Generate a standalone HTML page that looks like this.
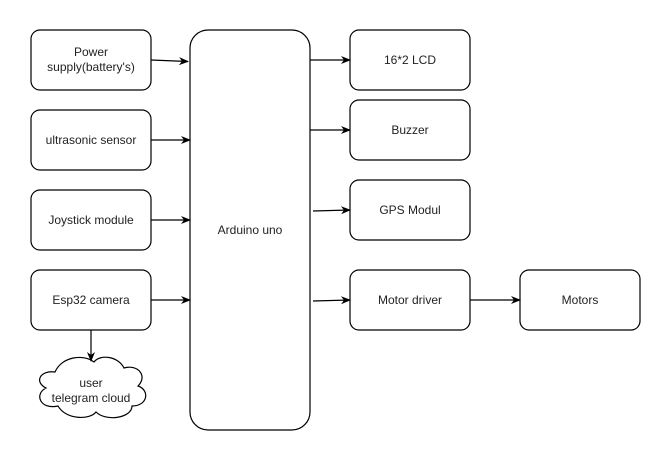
<!DOCTYPE html>
<html><head><meta charset="utf-8"><style>
html,body{margin:0;padding:0;background:#fff;}
svg{display:block;}
text{font-family:"Liberation Sans",Arial,sans-serif;font-size:12px;fill:#222;text-anchor:middle;}
</style></head><body>
<svg width="671" height="461" viewBox="0 0 671 461" xmlns="http://www.w3.org/2000/svg">
<defs><marker id="a" markerWidth="10" markerHeight="8" refX="9" refY="4" orient="auto" markerUnits="userSpaceOnUse"><path d="M0,0 L10,4 L0,8 L3,4 Z" fill="#000"/></marker></defs>
<g fill="#fff" stroke="#000" stroke-width="1.2">
<rect x="31" y="30" width="120" height="60" rx="9"/>
<rect x="31" y="110" width="120" height="60" rx="9"/>
<rect x="31" y="190" width="120" height="60" rx="9"/>
<rect x="31" y="270" width="120" height="60" rx="9"/>
<rect x="190" y="30" width="120" height="400" rx="18"/>
<rect x="350" y="30" width="120" height="60" rx="9"/>
<rect x="350" y="100" width="120" height="60" rx="9"/>
<rect x="350" y="180" width="120" height="60" rx="9"/>
<rect x="350" y="270" width="120" height="60" rx="9"/>
<rect x="520" y="270" width="120" height="60" rx="9"/>
<path d="M55,372 C40,370 34,382 46,388 C34,394 40,410 58,406 C66,420 90,420 96,412 C106,422 132,418 132,406 C148,406 150,390 138,386 C148,376 138,364 124,368 C118,356 100,354 94,362 C84,354 62,356 55,372 Z"/>
</g>
<g stroke="#000" stroke-width="1.2" fill="none" marker-end="url(#a)">
<line x1="151" y1="60" x2="188" y2="61.5"/>
<line x1="151" y1="140" x2="190" y2="140"/>
<line x1="151" y1="220" x2="190" y2="220"/>
<line x1="151" y1="300" x2="190" y2="300"/>
<line x1="310" y1="60" x2="350" y2="60"/>
<line x1="310" y1="130" x2="350" y2="130"/>
<line x1="313" y1="211" x2="350" y2="210"/>
<line x1="313" y1="301" x2="350" y2="300"/>
<line x1="470" y1="300" x2="520" y2="300"/>
<line x1="91" y1="330" x2="91" y2="361"/>
</g>
<text x="91" y="56">Power</text>
<text x="91" y="71">supply(battery's)</text>
<text x="91" y="144">ultrasonic sensor</text>
<text x="91" y="224">Joystick module</text>
<text x="91" y="304">Esp32 camera</text>
<text x="250" y="234">Arduino uno</text>
<text x="410" y="64">16*2 LCD</text>
<text x="410" y="134">Buzzer</text>
<text x="410" y="214">GPS Modul</text>
<text x="410" y="304">Motor driver</text>
<text x="580" y="304">Motors</text>
<text x="91" y="387">user</text>
<text x="91" y="402">telegram cloud</text>
</svg>
</body></html>
